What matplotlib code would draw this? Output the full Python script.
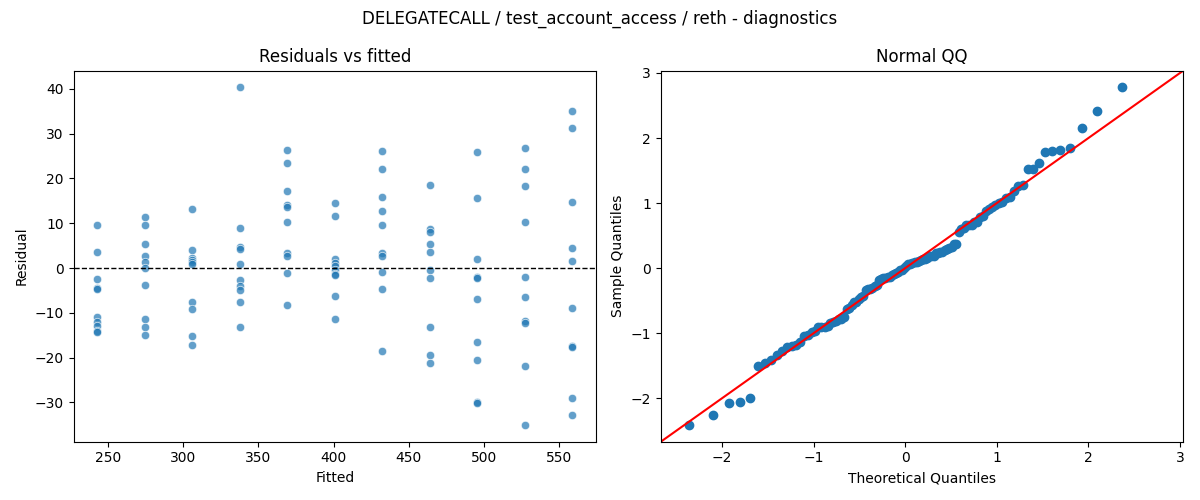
import matplotlib
matplotlib.use("Agg")
import matplotlib.pyplot as plt
import numpy as np
from statistics import NormalDist

# fitted levels (one per group) and residuals, 10 per level
fitted_levels = [242.8, 274.4, 306.0, 337.6, 369.2, 400.8, 432.4, 464.0, 495.6, 527.2, 558.8]
resid_groups = [
    [9.7, 3.6, -2.4, -4.4, -4.7, -11.0, -12.0, -13.0, -14.0, -14.3],
    [11.5, 9.5, 5.4, 2.7, 1.4, 0.0, -3.8, -11.35, -13.1, -15.0],
    [13.2, 4.0, 2.2, 1.7, 1.4, 1.0, -7.6, -9.2, -15.2, -17.2],
    [40.3, 9.0, 4.6, 4.3, 1.0, -2.6, -4.1, -4.9, -7.6, -13.1],
    [26.4, 23.5, 17.2, 14.0, 13.7, 10.3, 3.35, 2.6, -1.1, -8.3],
    [14.5, 11.6, 2.0, 1.1, 0.4, -0.4, -1.3, -1.65, -6.3, -11.4],
    [26.2, 22.2, 15.9, 12.75, 9.6, 3.35, 2.6, -0.9, -4.6, -18.6],
    [18.6, 8.8, 8.0, 5.4, 3.6, -0.45, -2.2, -13.1, -19.5, -21.3],
    [26.0, 15.7, 2.0, -2.0, -2.3, -6.9, -16.6, -20.6, -29.8, -30.2],
    [26.9, 22.2, 18.35, 10.3, -2.0, -6.5, -11.8, -12.3, -21.9, -35.0],
    [35.1, 31.3, 14.8, 4.5, 1.6, -9.0, -17.3, -17.6, -29.1, -32.7],
]

title = "DELEGATECALL / test_account_access / reth - diagnostics"

fitted = np.repeat(fitted_levels, [len(g) for g in resid_groups])
resid = np.concatenate([np.array(g) for g in resid_groups])

fig, (ax1, ax2) = plt.subplots(1, 2, figsize=(12, 5), dpi=100)

# residuals vs fitted
ax1.scatter(fitted, resid, s=36, color="#1f77b4", alpha=0.7, edgecolor="white", linewidth=0.6)
ax1.axhline(0, color="black", linestyle="--", linewidth=1)
ax1.set_xlabel("Fitted")
ax1.set_ylabel("Residual")
ax1.set_title("Residuals vs fitted")

# normal QQ of standardized residuals
n = len(resid)
sample = np.sort((resid - resid.mean()) / resid.std())
nd = NormalDist()
theo = np.array([nd.inv_cdf(i / (n + 1)) for i in range(1, n + 1)])
ax2.plot(theo, sample, marker="o", linestyle="none", color="#1f77b4")
ax2.margins(0.05)
xl = ax2.get_xlim()
yl = ax2.get_ylim()
lo = min(xl[0], yl[0])
hi = max(xl[1], yl[1])
ax2.plot([lo, hi], [lo, hi], color="r")
ax2.set_xlim(lo, hi)
ax2.set_ylim(lo, hi)
ax2.set_xlabel("Theoretical Quantiles")
ax2.set_ylabel("Sample Quantiles")
ax2.set_title("Normal QQ")

fig.suptitle(title)
fig.tight_layout()
fig.savefig("out.png")
